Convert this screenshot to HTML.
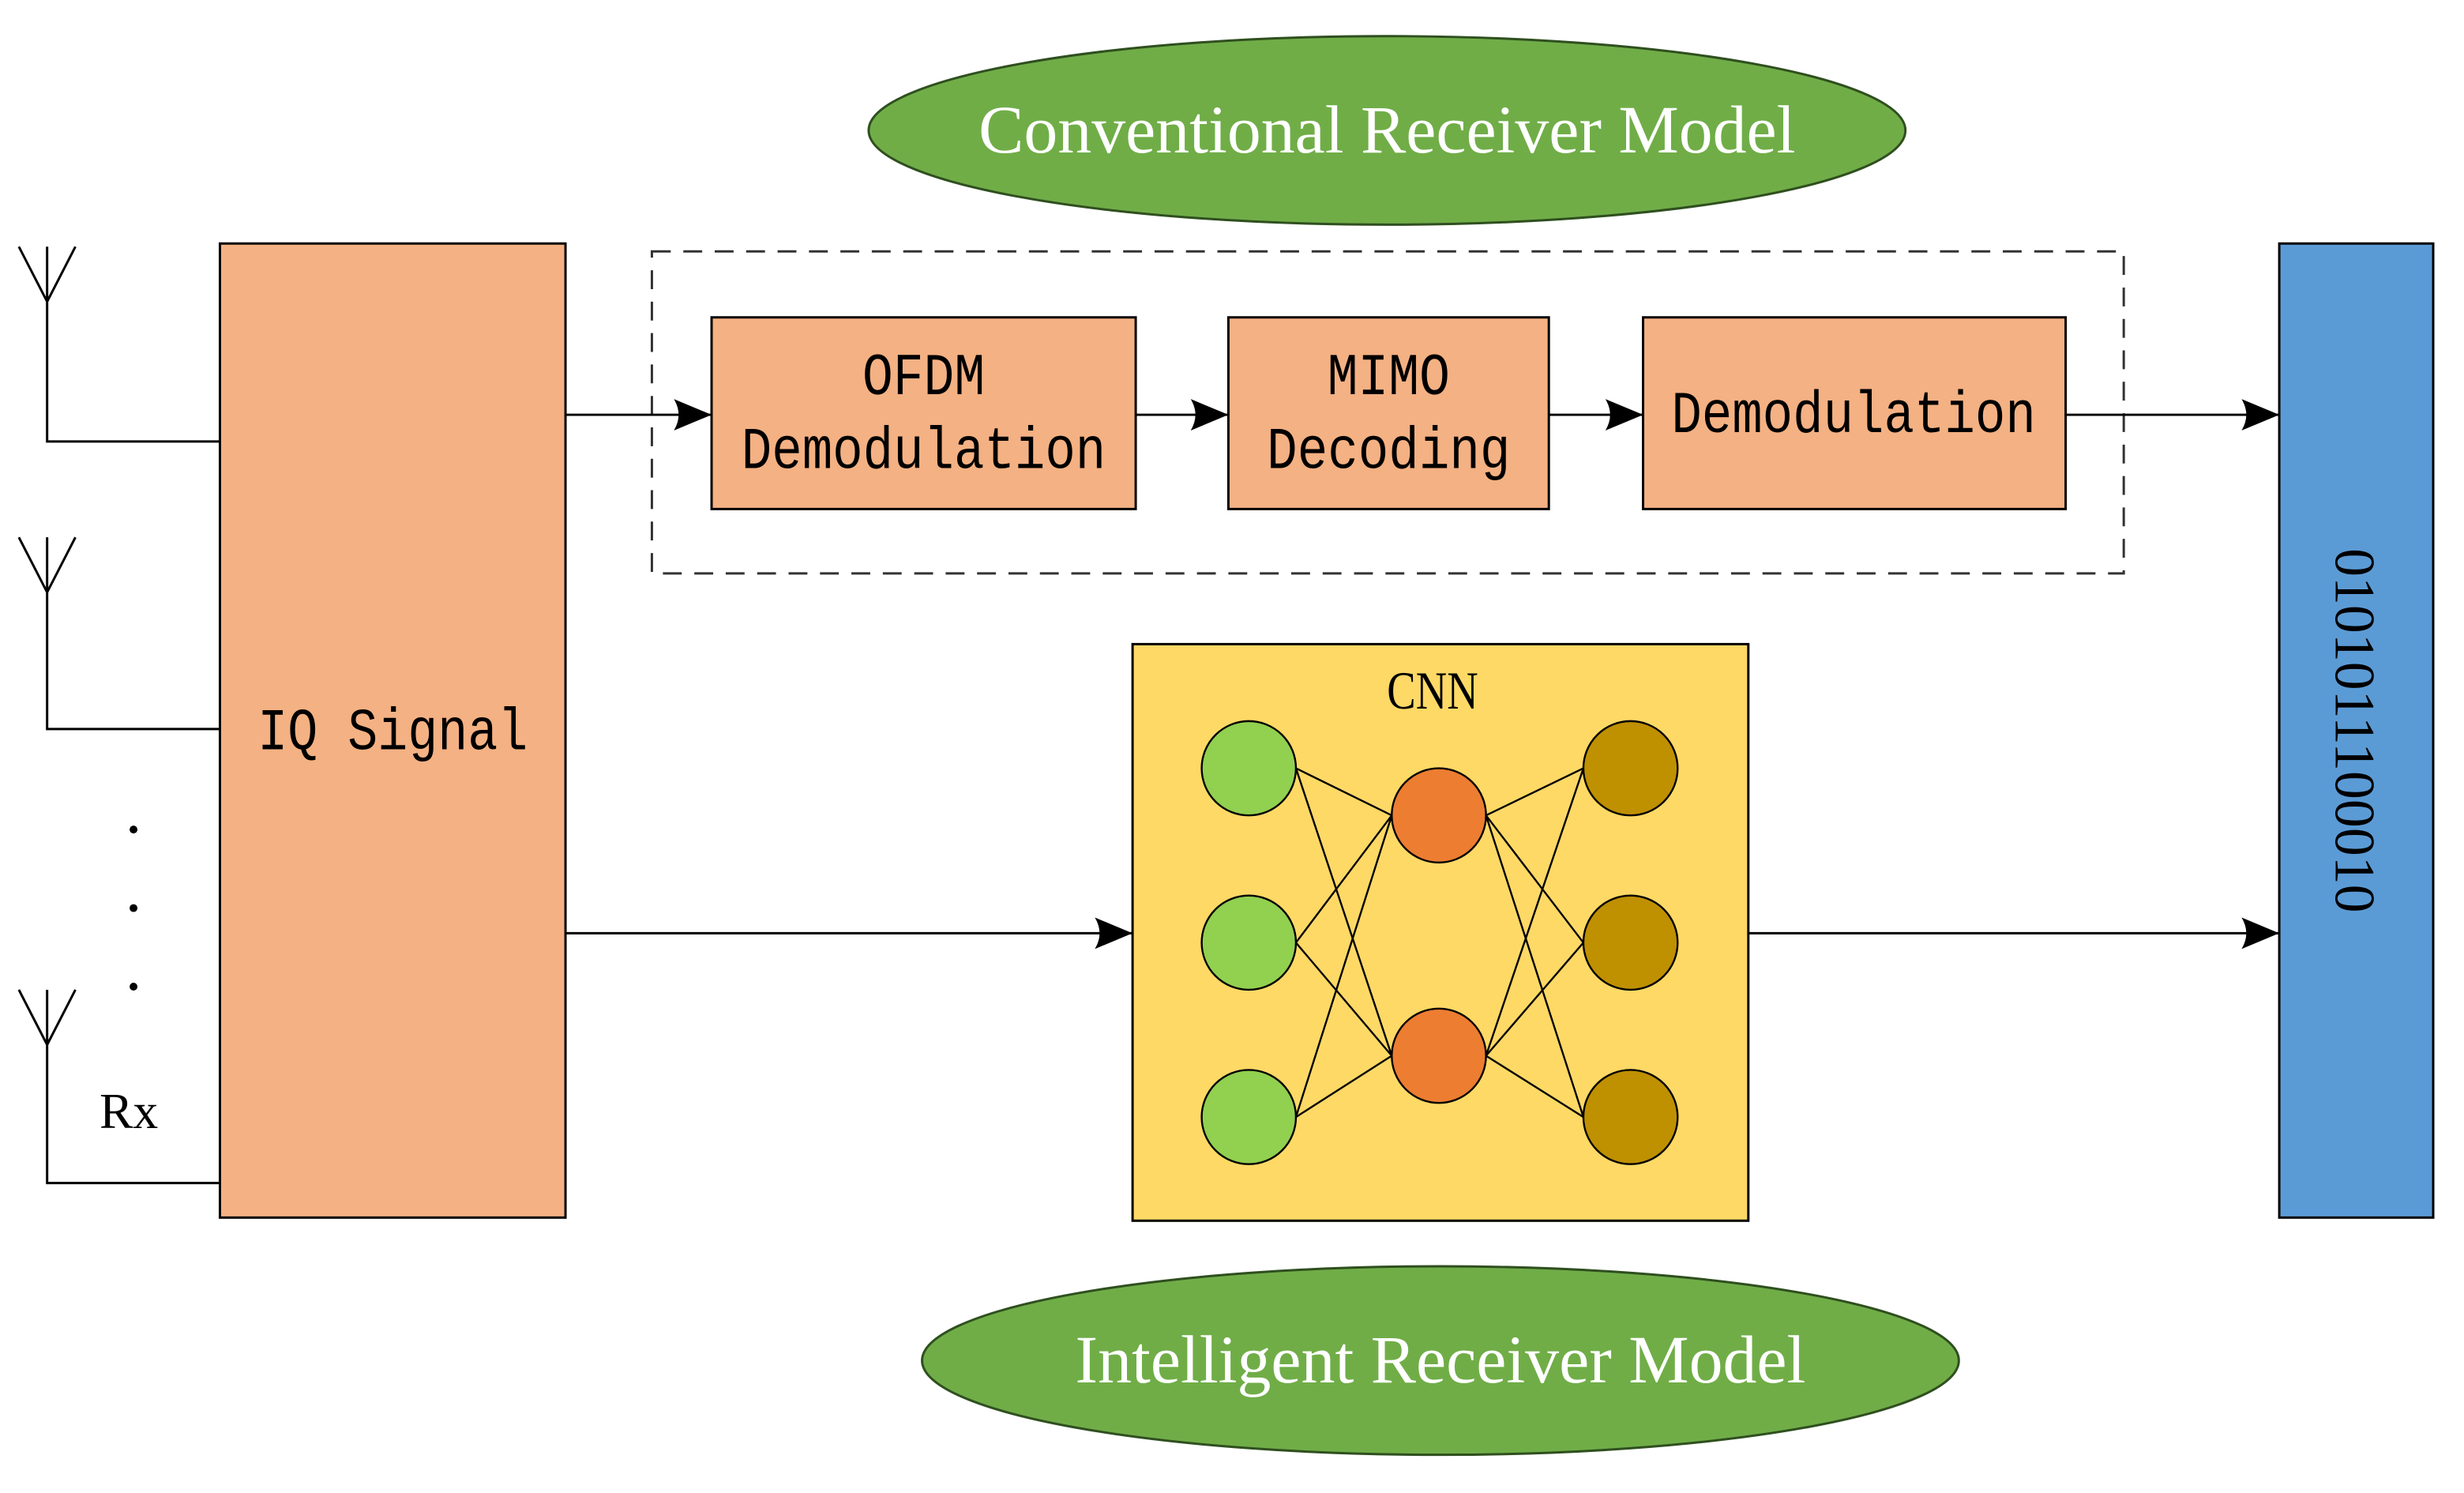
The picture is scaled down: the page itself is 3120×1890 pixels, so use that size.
<!DOCTYPE html>
<html><head><meta charset="utf-8"><style>
html,body{margin:0;padding:0;background:#fff;}
svg{display:block;}
</style></head><body>
<svg width="3120" height="1890" viewBox="0 0 1568.6 950.3" preserveAspectRatio="none" xmlns="http://www.w3.org/2000/svg">
<defs>
<marker id="ah2" viewBox="0 0 12 10" markerWidth="24" markerHeight="20" refX="12" refY="5" orient="auto" markerUnits="userSpaceOnUse">
<path d="M0,0 L12,5 L0,10 Q3,5 0,0 Z" fill="#000"/>
</marker>
</defs>
<rect width="1568.6" height="950.3" fill="#fff"/>
<!-- ellipses -->
<ellipse cx="883" cy="83" rx="330" ry="60" fill="#70AD47" stroke="#2f4f1f" stroke-width="1.5"/>
<text x="883" y="97" font-family="Liberation Serif, serif" font-size="43" fill="#fff" text-anchor="middle" textLength="520" lengthAdjust="spacingAndGlyphs">Conventional Receiver Model</text>
<ellipse cx="917" cy="866" rx="330" ry="60" fill="#70AD47" stroke="#2f4f1f" stroke-width="1.5"/>
<text x="917" y="880" font-family="Liberation Serif, serif" font-size="43" fill="#fff" text-anchor="middle" textLength="465" lengthAdjust="spacingAndGlyphs">Intelligent Receiver Model</text>
<!-- antennas -->
<g stroke="#000" stroke-width="1.5" fill="none">
<path d="M12,157 L30,192 L48,157 M30,157 L30,281 L140,281"/>
<path d="M12,342 L30,377 L48,342 M30,342 L30,464 L140,464"/>
<path d="M12,630 L30,665 L48,630 M30,630 L30,753 L140,753"/>
</g>
<circle cx="85" cy="528" r="2.5" fill="#000"/>
<circle cx="85" cy="578" r="2.5" fill="#000"/>
<circle cx="85" cy="628" r="2.5" fill="#000"/>
<text x="82" y="718" font-family="Liberation Serif, serif" font-size="32" text-anchor="middle">Rx</text>
<!-- IQ -->
<rect x="140" y="155" width="220" height="620" fill="#F4B183" stroke="#000" stroke-width="1.5"/>
<text x="250" y="477" font-family="Liberation Mono, monospace" font-size="38" text-anchor="middle" textLength="172" lengthAdjust="spacingAndGlyphs">IQ Signal</text>
<!-- dashed -->
<rect x="415" y="160" width="937" height="205" fill="none" stroke="#333" stroke-width="1.5" stroke-dasharray="12,8"/>
<g fill="#F4B183" stroke="#000" stroke-width="1.5">
<rect x="453" y="202" width="270" height="122"/>
<rect x="782" y="202" width="204" height="122"/>
<rect x="1046" y="202" width="269" height="122"/>
</g>
<g font-family="Liberation Mono, monospace" font-size="38" text-anchor="middle">
<text x="588" y="251" textLength="78" lengthAdjust="spacingAndGlyphs">OFDM</text>
<text x="588" y="298" textLength="232" lengthAdjust="spacingAndGlyphs">Demodulation</text>
<text x="884" y="251" textLength="78" lengthAdjust="spacingAndGlyphs">MIMO</text>
<text x="884" y="298" textLength="155" lengthAdjust="spacingAndGlyphs">Decoding</text>
<text x="1180" y="275" textLength="232" lengthAdjust="spacingAndGlyphs">Demodulation</text>
</g>
<!-- blue -->
<rect x="1451" y="155" width="98" height="620" fill="#5B9BD5" stroke="#000" stroke-width="1.5"/>
<text transform="translate(1487,465) rotate(90)" font-family="Liberation Serif, serif" font-size="36" text-anchor="middle" textLength="232" lengthAdjust="spacingAndGlyphs">0101011100010</text>
<!-- CNN -->
<rect x="721" y="410" width="392" height="367" fill="#FFD966" stroke="#000" stroke-width="1.5"/>
<text x="912" y="451" font-family="Liberation Serif, serif" font-size="34" text-anchor="middle" textLength="58" lengthAdjust="spacingAndGlyphs">CNN</text>
<g stroke="#000" stroke-width="1.2">
<line x1="825" y1="489" x2="886" y2="519"/><line x1="825" y1="489" x2="886" y2="672"/>
<line x1="825" y1="600" x2="886" y2="519"/><line x1="825" y1="600" x2="886" y2="672"/>
<line x1="825" y1="711" x2="886" y2="519"/><line x1="825" y1="711" x2="886" y2="672"/>
<line x1="946" y1="519" x2="1008" y2="489"/><line x1="946" y1="519" x2="1008" y2="600"/><line x1="946" y1="519" x2="1008" y2="711"/>
<line x1="946" y1="672" x2="1008" y2="489"/><line x1="946" y1="672" x2="1008" y2="600"/><line x1="946" y1="672" x2="1008" y2="711"/>
</g>
<g stroke="#000" stroke-width="1.2">
<circle cx="795" cy="489" r="30" fill="#92D050"/><circle cx="795" cy="600" r="30" fill="#92D050"/><circle cx="795" cy="711" r="30" fill="#92D050"/>
<circle cx="916" cy="519" r="30" fill="#ED7D31"/><circle cx="916" cy="672" r="30" fill="#ED7D31"/>
<circle cx="1038" cy="489" r="30" fill="#BF9000"/><circle cx="1038" cy="600" r="30" fill="#BF9000"/><circle cx="1038" cy="711" r="30" fill="#BF9000"/>
</g>
<!-- arrows -->
<g stroke="#000" stroke-width="1.5" marker-end="url(#ah2)">
<line x1="360" y1="264" x2="453" y2="264"/>
<line x1="723" y1="264" x2="782" y2="264"/>
<line x1="986" y1="264" x2="1046" y2="264"/>
<line x1="1315" y1="264" x2="1451" y2="264"/>
<line x1="360" y1="594" x2="721" y2="594"/>
<line x1="1113" y1="594" x2="1451" y2="594"/>
</g>
</svg>
</body></html>
